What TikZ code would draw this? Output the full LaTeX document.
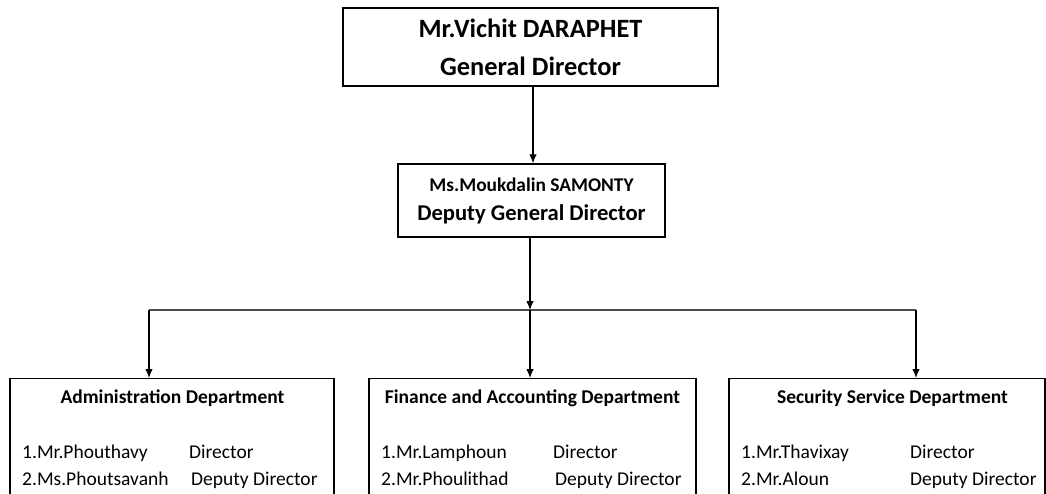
\documentclass[tikz,border=0pt]{standalone}
\usepackage{fontspec}
\setmainfont{Carlito}
\usetikzlibrary{arrows.meta}
\tikzset{
 boss/.style={draw,line width=1.4pt,align=center,inner sep=0pt},
 dept/.style={draw,line width=1.2pt,anchor=north,inner sep=0pt},
 depttitle/.style={anchor=base,font=\bfseries\fontsize{19.5}{24}\selectfont,inner sep=0pt},
 staff/.style={anchor=base west,font=\fontsize{19.5}{24}\selectfont,inner sep=0pt},
 link/.style={line width=1.2pt,-{Latex[length=9pt,width=7.5pt]}}
}
\begin{document}
\begin{tikzpicture}[x=1pt,y=-1pt]
 \useasboundingbox (0,0) rectangle (1046,493);
 \clip (0,0) rectangle (1046,493);
 % top of the chart
 \node[boss,minimum width=375pt,minimum height=78pt,font=\bfseries\fontsize{26.4}{38}\selectfont] (gd) at (530.5,47)
  {Mr.Vichit DARAPHET\\General Director};
 \node[boss,minimum width=267pt,minimum height=73pt,font=\bfseries\fontsize{22.6}{29}\selectfont] (dgd) at (531.5,200.5)
  {{\fontsize{19.4}{29}\selectfont Ms.Moukdalin SAMONTY}\\Deputy General Director};
 \draw[link] (gd.south -| 533,0) -- (dgd.north -| 533,0);
 % bus line to the departments
 \coordinate (bus) at (530,310);
 \coordinate (busl) at (149,310);
 \coordinate (busr) at (916,310);
 \draw[link] (dgd.south -| bus) -- (bus);
 \draw[line width=1.8pt,black!70] (busl) -- (busr);
 % departments
 \node[dept,minimum width=324pt,minimum height=140pt] (adm) at (172,378) {};
 \node[dept,minimum width=327pt,minimum height=140pt] (fin) at (532.5,378) {};
 \node[dept,minimum width=316pt,minimum height=140pt] (sec) at (887,378) {};
 \draw[link] (busl) -- (busl |- adm.north);
 \draw[link] (bus) -- (bus |- fin.north);
 \draw[link] (busr) -- (busr |- sec.north);
 \node[depttitle] (admt) at (172.5,403) {Administration Department};
 \node[depttitle] (fint) at (532.5,403) {Finance and Accounting Department};
 \node[depttitle] (sect) at (892.5,403) {Security Service Department};
 % staff rows
 \node[staff] (adm1) at (22,458) {1.Mr.Phouthavy};
 \node[staff] (adm2) at (22,485) {2.Ms.Phoutsavanh};
 \node[staff] (admd) at (189,458) {Director};
 \node[staff] (admdd) at (191,485) {Deputy Director};
 \node[staff] (fin1) at (381,458) {1.Mr.Lamphoun};
 \node[staff] (fin2) at (381,485) {2.Mr.Phoulithad};
 \node[staff] (find) at (553,458) {Director};
 \node[staff] (findd) at (555,485) {Deputy Director};
 \node[staff] (sec1) at (741,458) {1.Mr.Thavixay};
 \node[staff] (sec2) at (741,485) {2.Mr.Aloun};
 \node[staff] (secd) at (910,458) {Director};
 \node[staff] (secdd) at (910,485) {Deputy Director};
\end{tikzpicture}
\end{document}
